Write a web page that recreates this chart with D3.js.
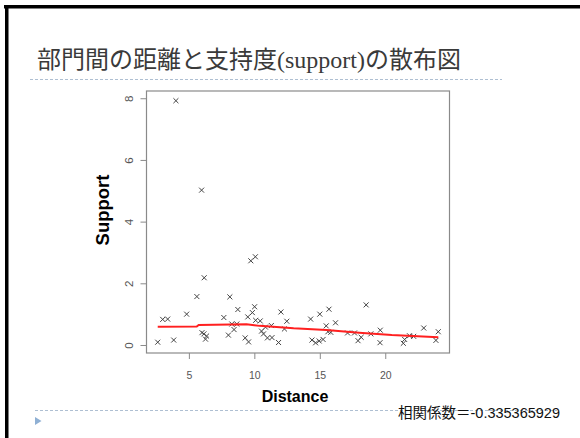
<!DOCTYPE html>
<html>
<head>
<meta charset="utf-8">
<script src="https://cdn.jsdelivr.net/npm/d3@7"></script>
<style>
  html, body { margin: 0; padding: 0; background: #fff; }
  svg { display: block; }
</style>
</head>
<body>
<svg id="slide" width="580" height="438"></svg>
<script>
// Department distance vs. support, one cross per department pair
const distance = [
  2.62, 3.0, 3.38, 3.84, 4.01, 4.83, 5.61, 5.97, 6.17, 6.0, 6.15, 6.35, 6.27,
  7.67, 8.13, 8.74, 8.28, 8.66, 8.45, 8.02, 9.3, 9.56, 9.5, 9.85, 10.02, 10.1, 10.45,
  9.73, 10.08,
  10.55, 10.85, 11.3, 11.0, 11.35, 11.85, 12.03, 12.48, 12.3, 10.7,
  14.3, 15.0, 15.7, 16.2, 15.49, 15.62, 15.84, 14.4, 14.68, 14.95, 15.25,
  18.54, 17.12, 17.65, 17.92, 18.16, 18.9, 19.62, 19.6,
  21.38, 21.48, 21.85, 22.17, 22.94, 23.87, 24.05
];
const support = [
  0.09, 0.83, 0.84, 0.16, 7.92, 1.0, 1.57, 5.02, 2.18, 0.40, 0.36, 0.29, 0.19,
  0.89, 1.56, 1.15, 0.68, 0.68, 0.50, 0.32, 0.23, 0.10, 0.91, 1.05, 1.24, 0.80, 0.78,
  2.73, 2.86,
  0.45, 0.58, 0.63, 0.23, 0.24, 0.08, 1.07, 0.77, 0.52, 0.36,
  0.84, 1.0, 1.16, 0.72, 0.62, 0.43, 0.41, 0.16, 0.07, 0.13, 0.18,
  1.30, 0.39, 0.39, 0.14, 0.25, 0.36, 0.48, 0.075,
  0.055, 0.18, 0.30, 0.28, 0.55, 0.15, 0.43
];

// lowess smoother drawn in red
const smoothX = [2.62, 5.6, 5.75, 9.4, 10.0, 10.4, 13.0, 15.5, 18.0, 20.5, 24.05];
const smoothY = [0.59, 0.60, 0.65, 0.67, 0.64, 0.62, 0.54, 0.49, 0.40, 0.32, 0.25];

const xTicks = [5, 10, 15, 20];
const yTicks = [0, 2, 4, 6, 8];

const titleText = "部門間の距離と支持度(support)の散布図";
const xTitle = "Distance";
const yTitle = "Support";
const corrText = "相関係数＝-0.335365929";

const svg = d3.select("#slide");

// slide frame (top and left edges)
svg.append("rect").attr("x", 4).attr("y", 5).attr("width", 576).attr("height", 3.5).attr("fill", "#000");
svg.append("rect").attr("x", 5).attr("y", 5).attr("width", 3.5).attr("height", 433).attr("fill", "#000");

// slide title
svg.append("text")
  .attr("x", 37).attr("y", 68)
  .attr("font-family", "'Liberation Serif', 'DejaVu Serif', 'Noto Sans CJK JP', serif")
  .attr("font-size", 24)
  .attr("fill", "#3a3a3a")
  .text(titleText);

// dashed rules
svg.append("line").attr("x1", 30).attr("x2", 502).attr("y1", 79.5).attr("y2", 79.5)
  .attr("stroke", "#aebfd2").attr("stroke-width", 1).attr("stroke-dasharray", "3,2");
svg.append("line").attr("x1", 35).attr("x2", 557).attr("y1", 410.5).attr("y2", 410.5)
  .attr("stroke", "#aebfd2").attr("stroke-width", 1).attr("stroke-dasharray", "3,2");

// bullet triangle
svg.append("path").attr("d", "M35,417 L35,425 L41.5,421 Z").attr("fill", "#8fb0d4");

// plot region, with R-style 4% padding on each axis
const plotL = 146.5, plotR = 449.5, plotT = 91, plotB = 353;
function padded(vals) {
  const [a, b] = d3.extent(vals);
  const p = (b - a) * 0.04;
  return [a - p, b + p];
}
const x = d3.scaleLinear().domain(padded(distance)).range([plotL, plotR]);
const y = d3.scaleLinear().domain(padded(support)).range([plotB, plotT]);

const axisColor = "#8a8a8a";
const labelColor = "#555";

// y axis
const gy = svg.append("g").attr("transform", `translate(${plotL},0)`)
  .call(d3.axisLeft(y).tickValues(yTicks).tickSize(6).tickFormat(d3.format("d")));
gy.select(".domain").remove();
gy.selectAll(".tick line").attr("stroke", axisColor).attr("stroke-width", 1);
gy.selectAll(".tick text")
  .attr("x", null).attr("dy", null)
  .attr("transform", "translate(-13.4,0) rotate(-90)")
  .attr("text-anchor", "middle")
  .attr("font-family", "'Liberation Sans', Arial, sans-serif")
  .attr("font-size", 11.5)
  .attr("fill", labelColor);

// x axis
const gx = svg.append("g").attr("transform", `translate(0,${plotB})`)
  .call(d3.axisBottom(x).tickValues(xTicks).tickSize(6).tickFormat(d3.format("d")));
gx.select(".domain").remove();
gx.selectAll(".tick line").attr("stroke", axisColor).attr("stroke-width", 1);
gx.selectAll(".tick text")
  .attr("y", 26).attr("dy", null)
  .attr("font-family", "'Liberation Sans', Arial, sans-serif")
  .attr("font-size", 10.5)
  .attr("fill", labelColor);

// plot box
svg.append("rect")
  .attr("x", plotL).attr("y", plotT)
  .attr("width", plotR - plotL).attr("height", plotB - plotT)
  .attr("fill", "none").attr("stroke", axisColor).attr("stroke-width", 1.2);

// axis titles
svg.append("text")
  .attr("transform", "translate(109,210) rotate(-90)")
  .attr("text-anchor", "middle")
  .attr("font-family", "'Liberation Sans', Arial, sans-serif")
  .attr("font-weight", "bold")
  .attr("font-size", 18.5)
  .attr("fill", "#000")
  .text(yTitle);
svg.append("text")
  .attr("x", 295).attr("y", 401.5)
  .attr("text-anchor", "middle")
  .attr("font-family", "'Liberation Sans', Arial, sans-serif")
  .attr("font-weight", "bold")
  .attr("font-size", 16)
  .attr("fill", "#000")
  .text(xTitle);

// points as crosses
const pts = distance.map((d, i) => ({ d, s: support[i] }));
svg.append("g").selectAll("path").data(pts).join("path")
  .attr("transform", p => `translate(${x(p.d)},${y(p.s)})`)
  .attr("d", d3.symbol(d3.symbolX, 18))
  .attr("fill", "none").attr("stroke", "#444").attr("stroke-width", 1);

// smoother
const smooth = smoothX.map((d, i) => [d, smoothY[i]]);
svg.append("path")
  .datum(smooth)
  .attr("d", d3.line().x(p => x(p[0])).y(p => y(p[1])))
  .attr("fill", "none").attr("stroke", "#ff2020").attr("stroke-width", 2);

// correlation note
svg.append("text")
  .attr("x", 560).attr("y", 418)
  .attr("text-anchor", "end")
  .attr("font-family", "'Liberation Sans', Arial, 'Noto Sans CJK JP', sans-serif")
  .attr("font-size", 14.5)
  .attr("fill", "#111")
  .text(corrText);
</script>
</body>
</html>
